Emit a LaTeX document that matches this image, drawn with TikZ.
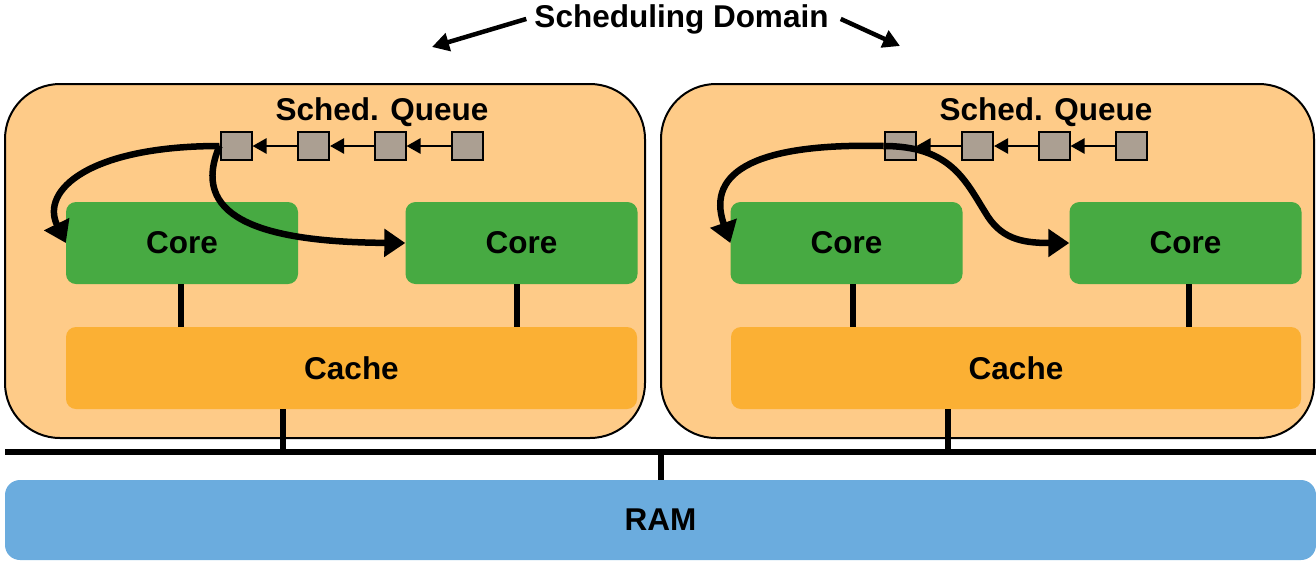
\documentclass[tikz,border=0pt]{standalone}
\usepackage{fontspec}
\setmainfont{Liberation Sans}
\usetikzlibrary{arrows.meta}
\definecolor{domfill}{HTML}{FECB88}
\definecolor{corefill}{HTML}{47AA42}
\definecolor{cachefill}{HTML}{FBB034}
\definecolor{ramfill}{HTML}{6BACDE}
\definecolor{qfill}{HTML}{AB9F92}

\begin{document}
\begin{tikzpicture}[x=1pt,y=-1pt,
  lbl/.style={font=\fontsize{31.5}{38}\selectfont\bfseries, text=black, inner sep=0pt},
  dombox/.style={draw=black, line width=2pt, fill=domfill, rounded corners=55pt, inner sep=0pt},
  corebox/.style={fill=corefill, rounded corners=10pt, minimum width=232pt, minimum height=82pt, lbl},
  cachebox/.style={fill=cachefill, rounded corners=10pt, minimum width=571pt, minimum height=82pt, lbl},
  rambox/.style={fill=ramfill, rounded corners=15pt, minimum width=1311pt, minimum height=80pt, lbl},
  qitem/.style={draw=black, line width=2pt, fill=qfill, minimum width=31pt, minimum height=28pt, inner sep=0pt},
  qlink/.style={line width=2.5pt, -{Triangle[length=14pt,width=15pt]}},
  move/.style={line width=6.5pt, -{Triangle[length=21pt,width=27pt]}},
  pointer/.style={line width=4.5pt, -{Triangle[length=17pt,width=18pt]}},
  wire/.style={line width=6pt},
  buswire/.style={line width=6pt},
]
\useasboundingbox (0,0) rectangle (1316,563);

% title and its two pointers
\node[lbl, anchor=base] (title) at (681.5,27) {Scheduling Domain};
\coordinate (tipL) at (432,47);
\coordinate (tipR) at (900,46);
\draw[pointer] ([xshift=-8pt]title.west) -- (tipL);
\draw[pointer] ([xshift=12pt]title.east) -- (tipR);

% the two scheduling domains
\node[dombox, minimum width=640pt, minimum height=354pt] (dom1) at (325,261) {};
\node[dombox, minimum width=653pt, minimum height=354pt] (dom2) at (987.5,261) {};

\node[lbl, anchor=base] (sq1) at (382,120) {Sched. Queue};
\node[lbl, anchor=base] (sq2) at (1046,120) {Sched. Queue};

% cores and caches
\node[corebox] (core11) at (182,243) {Core};
\node[corebox] (core12) at (521.5,243) {Core};
\node[corebox] (core21) at (846.5,243) {Core};
\node[corebox] (core22) at (1185.5,243) {Core};
\node[cachebox] (cache1) at (351.5,368) {Cache};
\node[cachebox, minimum width=570pt] (cache2) at (1016,368) {Cache};

\draw[wire] ([xshift=-1pt]core11.south) -- ([xshift=-1pt]core11.south |- cache1.north);
\draw[wire] ([xshift=-4.5pt]core12.south) -- ([xshift=-4.5pt]core12.south |- cache1.north);
\draw[wire] ([xshift=6.5pt]core21.south) -- ([xshift=6.5pt]core21.south |- cache2.north);
\draw[wire] ([xshift=3.5pt]core22.south) -- ([xshift=3.5pt]core22.south |- cache2.north);

% memory bus and RAM
\node[rambox] (ram) at (660.5,520) {RAM};
\coordinate (busW) at (5,452);
\coordinate (busE) at (1316,452);
\coordinate (tap1) at (283,452);
\coordinate (tap2) at (948,452);
\draw[buswire] (busW) -- (busE);
\draw[wire] (cache1.south -| tap1) -- (tap1);
\draw[wire] (cache2.south -| tap2) -- (tap2);
\draw[wire] (ram.north) -- (ram.north |- busW);

% run queues
\node[qitem] (q11) at (236,146) {};
\node[qitem] (q12) at (313.5,146) {};
\node[qitem] (q13) at (390,146) {};
\node[qitem] (q14) at (467.5,146) {};
\node[qitem] (q21) at (900,146) {};
\node[qitem] (q22) at (977.5,146) {};
\node[qitem] (q23) at (1054,146) {};
\node[qitem] (q24) at (1131.5,146) {};
\draw[qlink] (q12.west) -- (q11.east);
\draw[qlink] (q13.west) -- (q12.east);
\draw[qlink] (q14.west) -- (q13.east);
\draw[qlink] (q22.west) -- (q21.east);
\draw[qlink] (q23.west) -- (q22.east);
\draw[qlink] (q24.west) -- (q23.east);

% tasks dispatched from the queue heads to the cores
\draw[move] (q11.west) .. controls (90,146) and (40,190) .. (core11.west);
\draw[move] (q11.west) .. controls (190,215) and (255,242) .. (core12.west);
\draw[move] (q21.west) .. controls (760,143) and (705,170) .. (core21.west);
\draw[move] (q21.west) .. controls (950,146) and (965,180) .. (985,212)
                        .. controls (1000,238) and (1020,243) .. (core22.west);
\end{tikzpicture}
\end{document}
